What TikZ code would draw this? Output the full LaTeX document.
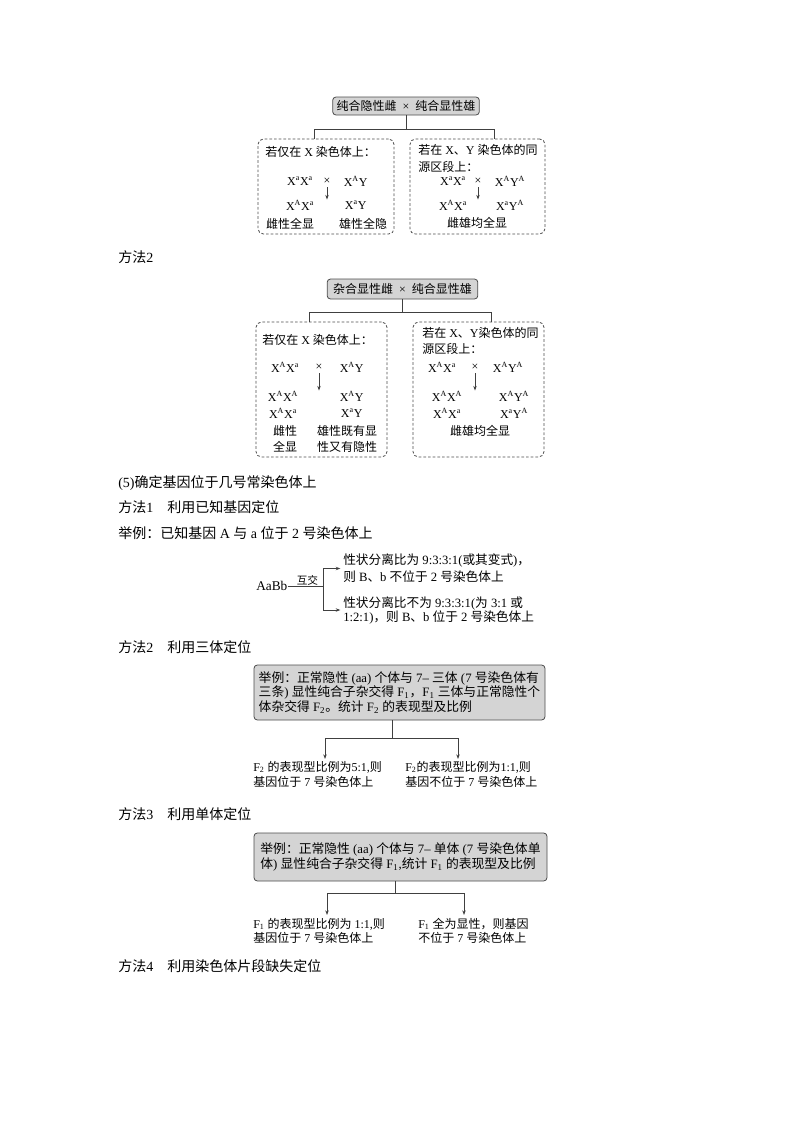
\documentclass[tikz,border=0pt]{standalone}
\usepackage{fontspec}
\setmainfont{Liberation Serif}
\newfontfamily\cjk{Noto Sans CJK SC}
\usetikzlibrary{arrows.meta,calc}
% Chinese characters get the CJK face, everything else stays serif
\newXeTeXintercharclass\hanclass
\makeatletter
\count@="3000
\loop\XeTeXcharclass\count@=\hanclass\advance\count@ 1 \ifnum\count@<"3040 \repeat
\count@="4E00
\loop\XeTeXcharclass\count@=\hanclass\advance\count@ 1 \ifnum\count@<"A000 \repeat
\count@="FF00
\loop\XeTeXcharclass\count@=\hanclass\advance\count@ 1 \ifnum\count@<"FFF0 \repeat
\makeatother
\XeTeXinterchartoks 0 \hanclass={\cjk}
\XeTeXinterchartoks 4095 \hanclass={\cjk}
\XeTeXinterchartoks \hanclass 0={\rmfamily}
\XeTeXinterchartoks \hanclass 4095={\rmfamily}
\XeTeXinterchartokenstate=1
\newcommand\gx[2]{X\textsuperscript{#1}X\textsuperscript{#2}}
\newcommand\gy[2]{X\textsuperscript{#1}Y\textsuperscript{#2}}
\newcommand\crs{\enspace×\enspace}
\tikzset{
  graybox/.style={draw=black!70, fill=black!17, rounded corners=2.5pt, line width=.6pt, inner sep=2pt, font=\fontsize{9}{11}\selectfont},
  dashbox/.style={draw=black!70, dash pattern=on 2pt off 1.5pt, rounded corners=4pt, line width=.6pt},
  gen/.style={inner sep=0pt, font=\fontsize{9}{11}\selectfont},
  lbl/.style={inner sep=0pt, align=left, font=\fontsize{9}{11}\selectfont},
  head/.style={anchor=west, inner sep=0pt, font=\fontsize{10.5}{12}\selectfont},
  link/.style={draw=black!75, line width=.6pt},
  arr/.style={link, -{Stealth[length=3.5pt,width=2.6pt]}}
}
\begin{document}
\begin{tikzpicture}[x=0.75pt,y=-0.75pt]
\useasboundingbox (0,0) rectangle (800,1132);
% first cross
\node[graybox, minimum width=110pt, minimum height=13.5pt, inner xsep=1pt] (top1) at (406,106) {纯合隐性雌\crs 纯合显性雄};
\node[dashbox, minimum width=102pt, minimum height=71.25pt] (left1) at (326,186.5) {};
\node[dashbox, minimum width=101.25pt, minimum height=71.25pt] (right1) at (477.5,186.5) {};
\draw[link] (top1.south) -- ++(0,14) coordinate (fork1);
\draw[link] ($(left1.north)+(-12,0)$) |- (fork1) -| ($(right1.north)+(16.5,0)$);
\node[gen, anchor=west] (left1head) at (265,152) {若仅在 X 染色体上：};
\node[gen] (left1p) at (300,181) {\gx{a}{a}};
\node[gen] (left1x) at (327,181) {×};
\node[gen] (left1q) at (356,181) {\gy{A}{}};
\node[gen] (left1m) at (300,205) {\gx{A}{a}};
\node[gen] (left1n) at (356,205) {\gy{a}{}};
\node[gen] (left1f) at (290,224) {雌性全显};
\node[gen] (left1g) at (363,224) {雄性全隐};
\draw[arr, shorten <=2pt] (left1x.south) -- (left1x |- left1m.north);
\node[gen, anchor=west, align=left, font=\fontsize{9}{12.75}\selectfont] (right1head) at (418,158.5) {若在 X、Y 染色体的同\\源区段上：};
\node[gen] (right1p) at (453,181) {\gx{a}{a}};
\node[gen] (right1x) at (478,181) {×};
\node[gen] (right1q) at (510,181) {\gy{A}{A}};
\node[gen] (right1m) at (453,205) {\gx{A}{a}};
\node[gen] (right1n) at (510,205) {\gy{a}{A}};
\node[gen] (right1f) at (477,223) {雌雄均全显};
\draw[arr, shorten <=2pt] (right1x.south) -- (right1x |- right1m.north);
% second cross
\node[head] (m2xy) at (118,257) {方法2};
\node[graybox, minimum width=113pt, minimum height=15pt, inner xsep=1pt] (top2) at (402.5,289) {杂合显性雌\crs 纯合显性雄};
\node[dashbox, minimum width=98.25pt, minimum height=101.25pt] (left2) at (321.5,389.5) {};
\node[dashbox, minimum width=98.25pt, minimum height=101.25pt] (right2) at (478.5,389.5) {};
\draw[link] (top2.south) -- ++(0,13) coordinate (fork2);
\draw[link] ($(left2.north)+(-12.5,0)$) |- (fork2) -| ($(right2.north)+(12.5,0)$);
\node[gen, anchor=west] (left2head) at (262,340) {若仅在 X 染色体上：};
\node[gen] (left2p) at (285,367) {\gx{A}{a}};
\node[gen] (left2x) at (319,367) {×};
\node[gen] (left2q) at (352,367) {\gy{A}{}};
\node[gen] (left2m) at (283,396) {\gx{A}{A}};
\node[gen] (left2n) at (352,396) {\gy{A}{}};
\node[gen] (left2o) at (283,413) {\gx{A}{a}};
\node[gen] (left2s) at (352,413) {\gy{a}{}};
\node[gen, align=center, font=\fontsize{9}{12}\selectfont] (left2f) at (285,439) {雌性\\全显};
\node[gen, align=center, font=\fontsize{9}{12}\selectfont] (left2g) at (347,439) {雄性既有显\\性又有隐性};
\draw[arr, shorten <=2pt] (left2x.south) -- (left2x |- left2m.north);
\node[gen, anchor=west, align=left, font=\fontsize{9}{12}\selectfont] (right2head) at (422,341) {若在 X、Y染色体的同\\源区段上：};
\node[gen] (right2p) at (442,367) {\gx{A}{a}};
\node[gen] (right2x) at (475,367) {×};
\node[gen] (right2q) at (508,367) {\gy{A}{A}};
\node[gen] (right2m) at (447,396) {\gx{A}{A}};
\node[gen] (right2n) at (514,396) {\gy{A}{A}};
\node[gen] (right2o) at (447,413) {\gx{A}{a}};
\node[gen] (right2s) at (514,413) {\gy{a}{A}};
\node[gen] (right2f) at (480,431) {雌雄均全显};
\draw[arr, shorten <=2pt] (right2x.south) -- (right2x |- right2m.north);
% autosomes
\node[head] (sec5) at (118,483) {(5)确定基因位于几号常染色体上};
\node[head] (m1) at (118,507) {方法1\quad 利用已知基因定位};
\node[head] (ex1) at (118,533) {举例：已知基因 A 与 a 位于 2 号染色体上};
\node[gen, anchor=west, font=\fontsize{10}{12}\selectfont] (aabb) at (256,586) {AaBb};
\coordinate (split) at ($(aabb.east)+(36,0)$);
\draw[link] (aabb.east) -- (split);
\node[gen, font=\fontsize{8}{9}\selectfont] (selfx) at ($(aabb.east)!.55!(split)+(0,-6)$) {互交};
\node[lbl, anchor=west, font=\fontsize{9.5}{12.75}\selectfont] (res1) at (343,568.5) {性状分离比为 9:3:3:1(或其变式)，\\则 B、b 不位于 2 号染色体上};
\node[lbl, anchor=west, font=\fontsize{9.5}{10.5}\selectfont] (res2) at (343,610) {性状分离比不为 9:3:3:1(为 3:1 或\\1:2:1)，则 B、b 位于 2 号染色体上};
\draw[arr] (split) |- ([xshift=-2pt]res1.west);
\draw[arr] (split) |- ([xshift=-2pt]res2.west);
% trisomy
\node[head] (m2) at (118,647) {方法2\quad 利用三体定位};
\node[graybox, minimum width=218.25pt, minimum height=41.25pt, align=left, inner xsep=1pt, font=\fontsize{9.6}{10.9}\selectfont] (tri) at (399.5,692.5) {举例：正常隐性 (aa) 个体与 7– 三体 (7 号染色体有\\三条) 显性纯合子杂交得 F\textsubscript{1}，F\textsubscript{1} 三体与正常隐性个\\体杂交得 F\textsubscript{2}。统计 F\textsubscript{2} 的表现型及比例};
\draw[link] ($(tri.south)+(-7.5,0)$) -- ++(0,18) coordinate (fork4);
\node[lbl, anchor=north west, font=\fontsize{9}{11.25}\selectfont] (tri5) at (253,761) {F\textsubscript{2} 的表现型比例为5:1,则\\基因位于 7 号染色体上};
\node[lbl, anchor=north west, font=\fontsize{9}{11.25}\selectfont] (tri1) at (405,761) {F\textsubscript{2}的表现型比例为1:1,则\\基因不位于 7 号染色体上};
\draw[arr] (fork4) -| ($(tri5.north west)+(72,-2)$);
\draw[arr] (fork4) -| ($(tri1.north west)+(53,-2)$);
% monosomy
\node[head] (m3) at (118,814) {方法3\quad 利用单体定位};
\node[graybox, minimum width=219.75pt, minimum height=36pt, align=left, inner xsep=1pt, font=\fontsize{9.6}{11}\selectfont] (mono) at (400.5,857) {举例：正常隐性 (aa) 个体与 7– 单体 (7 号染色体单\\体) 显性纯合子杂交得 F\textsubscript{1},统计 F\textsubscript{1} 的表现型及比例};
\draw[link] ($(mono.south)+(-5.5,0)$) -- ++(0,12) coordinate (fork5);
\node[lbl, anchor=north west, font=\fontsize{9}{10.5}\selectfont] (mono1) at (253,918) {F\textsubscript{1} 的表现型比例为 1:1,则\\基因位于 7 号染色体上};
\node[lbl, anchor=north west, font=\fontsize{9}{10.5}\selectfont] (mono2) at (418,918) {F\textsubscript{1} 全为显性，则基因\\不位于 7 号染色体上};
\draw[arr] (fork5) -| ($(mono1.north west)+(74,-3)$);
\draw[arr] (fork5) -| ($(mono2.north west)+(46,-3)$);
\node[head] (m4) at (118,966) {方法4\quad 利用染色体片段缺失定位};
\end{tikzpicture}
\end{document}
